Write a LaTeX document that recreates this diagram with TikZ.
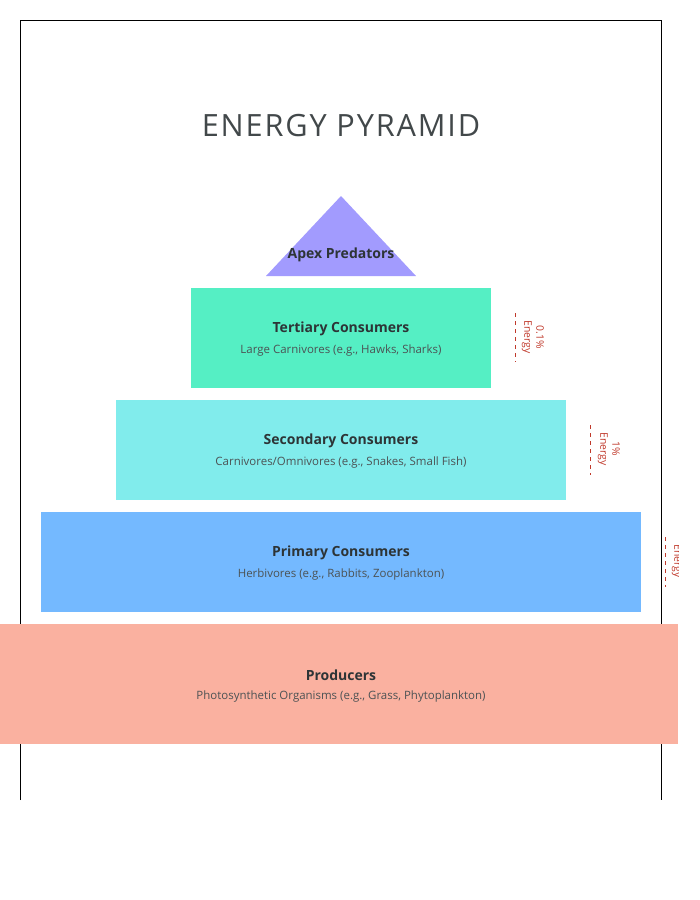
\documentclass[tikz,border=0pt]{standalone}
\usepackage{fontspec}
\setmainfont{Open Sans}
\definecolor{apex}{HTML}{A29BFE}
\definecolor{tert}{HTML}{55EFC4}
\definecolor{sec}{HTML}{81ECEC}
\definecolor{prim}{HTML}{74B9FF}
\definecolor{prod}{HTML}{FAB1A0}
\definecolor{ink}{HTML}{2D3436}
\definecolor{lbl}{HTML}{C0392B}
\tikzset{
  ttl/.style={font=\fontsize{10.5pt}{12pt}\selectfont\bfseries, text=ink},
  sub/.style={font=\fontsize{8.6pt}{10pt}\selectfont, text=ink!85},
  pct/.style={font=\fontsize{7.8pt}{9pt}\selectfont, text=lbl, rotate=-90, align=center},
  pctline/.style={draw=lbl, dashed, line width=0.5pt},
}
\begin{document}
\begin{tikzpicture}[x=0.75pt,y=-0.75pt]
\useasboundingbox (0,0) rectangle (700,900);
\draw[line width=0.6pt] (20,800) -- (20,20) -- (661,20) -- (661,800);
\node[font=\fontsize{23pt}{26pt}\selectfont\addfontfeature{LetterSpace=6}, text=ink!90] (title) at (341,126) {ENERGY PYRAMID};
\begin{scope}
\clip (0,0) rectangle (678,900);
\fill[apex] (341,196) -- (416,276) -- (266,276) -- cycle;
\node[ttl] (apexT) at (341,255) {Apex Predators};
\fill[tert] (191,288) rectangle (491,388);
\node[ttl] (tertT) at (341,329) {Tertiary Consumers};
\node[sub] (tertS) at (341,351) {Large Carnivores (e.g., Hawks, Sharks)};
\fill[sec] (116,400) rectangle (566,500);
\node[ttl] (secT) at (341,441) {Secondary Consumers};
\node[sub] (secS) at (341,463) {Carnivores/Omnivores (e.g., Snakes, Small Fish)};
\fill[prim] (41,512) rectangle (641,612);
\node[ttl] (primT) at (341,553) {Primary Consumers};
\node[sub] (primS) at (341,575) {Herbivores (e.g., Rabbits, Zooplankton)};
\fill[prod] (0,624) rectangle (678,744);
\node[ttl] (prodT) at (341,675) {Producers};
\node[sub] (prodS) at (341,697) {Photosynthetic Organisms (e.g., Grass, Phytoplankton)};
\draw[pctline] (515,313) -- (515,362);
\node[pct] (p1) at (533,337) {0.1\%\\Energy};
\draw[pctline] (590,425) -- (590,475);
\node[pct] (p2) at (609,449) {1\%\\Energy};
\draw[pctline] (665,537) -- (665,587);
\node[pct] (p3) at (683,561) {10\%\\Energy};
\end{scope}
\end{tikzpicture}
\end{document}
